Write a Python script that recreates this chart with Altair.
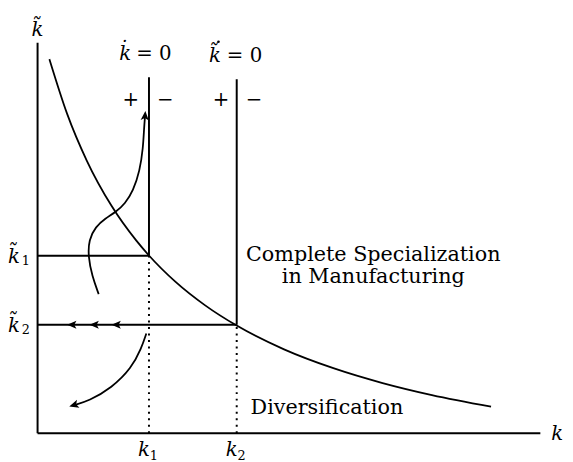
import altair as alt
import pandas as pd

# ---- data (diagram coordinates: k horizontal, k-tilde vertical) ----
k1, k2 = 113, 202
kt1, kt2 = 180, 110
axis_x_end, axis_y_end = 510, 396
nullcline_top = [361, 359]

# downward sloping boundary curve
curve_k = [12, 30, 50, 75, 100, 113, 140, 170, 202, 250, 300, 350, 400, 460]
curve_kt = [379.4, 323.9, 276.3, 230.6, 195.5, 180.2, 153.4, 129.6, 109.1, 85.0, 65.9, 50.8, 38.6, 26.8]

# S-shaped trajectory (upper)
s_k = [62, 55.3, 51.3, 52, 58.7, 68.7, 79.3, 88.7, 97, 103.7, 107, 108, 109]
s_kt = [141, 159.3, 179.3, 196, 209.3, 217.7, 224.3, 232.7, 246, 266, 289.3, 309.3, 321.5]

# lower trajectory
l_k = [110.3, 105.3, 95.3, 75.3, 52, 36.3]
l_kt = [101, 86, 66, 46, 32.7, 28.3]

# arrowheads
arrow_k = [34.8, 57.5, 79.8, 109, 36.8]
arrow_kt = [110, 110, 110, 322, 28.5]
arrow_angle = [270, 270, 270, 4, 253]

xs = alt.Scale(domain=[-30, 535], nice=False, zero=False)
ys = alt.Scale(domain=[-26, 428], nice=False, zero=False)

def X(f="x"):
    return alt.X(f"{f}:Q", scale=xs, axis=None)

def Y(f="y"):
    return alt.Y(f"{f}:Q", scale=ys, axis=None)

solid = pd.DataFrame({
    "x": [0, 0, k1, k2, 0, 0],
    "y": [0, 0, kt1, kt2, kt1, kt2],
    "x2": [axis_x_end, 0, k1, k2, k1, k2],
    "y2": [0, axis_y_end, nullcline_top[0], nullcline_top[1], kt1, kt2],
})
dotted = pd.DataFrame({"x": [k1, k2], "y": [0, 0], "x2": [k1, k2], "y2": [kt1, kt2]})

rules = alt.Chart(solid).mark_rule(color="black", strokeWidth=2).encode(
    x=X(), y=Y(), x2="x2:Q", y2="y2:Q")
dots = alt.Chart(dotted).mark_rule(color="black", strokeWidth=2, strokeDash=[2, 4.6]).encode(
    x=X(), y=Y(), x2="x2:Q", y2="y2:Q")

curve_df = pd.DataFrame({"x": curve_k, "y": curve_kt, "i": range(len(curve_k))})
curve = alt.Chart(curve_df).mark_line(color="black", strokeWidth=1.8, interpolate="monotone").encode(
    x=X(), y=Y(), order="i:Q")

traj_df = pd.DataFrame({
    "x": s_k + l_k,
    "y": s_kt + l_kt,
    "g": ["s"] * len(s_k) + ["l"] * len(l_k),
    "i": list(range(len(s_k))) + list(range(len(l_k))),
})
traj = alt.Chart(traj_df).mark_line(color="black", strokeWidth=1.8, interpolate="basis").encode(
    x=X(), y=Y(), detail="g:N", order="i:Q")

arrow_df = pd.DataFrame({"x": arrow_k, "y": arrow_kt, "a": arrow_angle})
heads = alt.Chart(arrow_df).mark_point(
    shape="M0,-1L0.85,0.95L0,0.5L-0.85,0.95Z", filled=True, color="black", opacity=1, size=95, strokeWidth=0
).encode(x=X(), y=Y(), angle=alt.Angle("a:Q", scale=None))

# ---- text labels ----
def txt(df, **kw):
    base = dict(color="black", baseline="alphabetic", font="DejaVu Serif")
    base.update(kw)
    return alt.Chart(pd.DataFrame(df)).mark_text(**base).encode(x=X(), y=Y(), text="t:N")

italic_labels = txt({"t": ["k\u0303", "k", "k\u0307", "k\u0303", "k\u0303", "k\u0303", "k", "k"],
                     "x": [0, 527, 89, 180, -24, -24, 108, 197],
                     "y": [403, -7, 379, 376, 173, 103, -23, -23]},
                    fontStyle="italic", fontSize=20)
dot_mark = alt.Chart(pd.DataFrame({"x": [183.5], "y": [397]})).mark_circle(
    color="black", opacity=1, size=7).encode(x=X(), y=Y())
eq_labels = txt({"t": ["= 0", "= 0"], "x": [100, 192], "y": [379, 376]},
                fontSize=20, align="left")
subs = txt({"t": ["1", "2", "1", "2"], "x": [-12, -12, 118, 207], "y": [171, 101, -27, -27]},
           fontSize=13)
signs = txt({"t": ["+", "\u2212", "+", "\u2212"], "x": [94.5, 129.5, 186, 219.5], "y": [338, 338, 338, 338]},
            fontSize=20, baseline="middle")
region_labels = txt({"t": ["Complete Specialization", "in Manufacturing", "Diversification"],
                     "x": [340.5, 340.5, 293.5], "y": [175, 152, 19.5]},
                    fontSize=21)

chart = alt.layer(rules, dots, curve, traj, heads, italic_labels, dot_mark, eq_labels, subs, signs,
                  region_labels).properties(
    width=565, height=454, padding=0, background="white",
    autosize=alt.AutoSizeParams(type="none")
).configure_view(stroke=None)

chart.save("out.html", embed_options={"renderer": "svg", "actions": False})
